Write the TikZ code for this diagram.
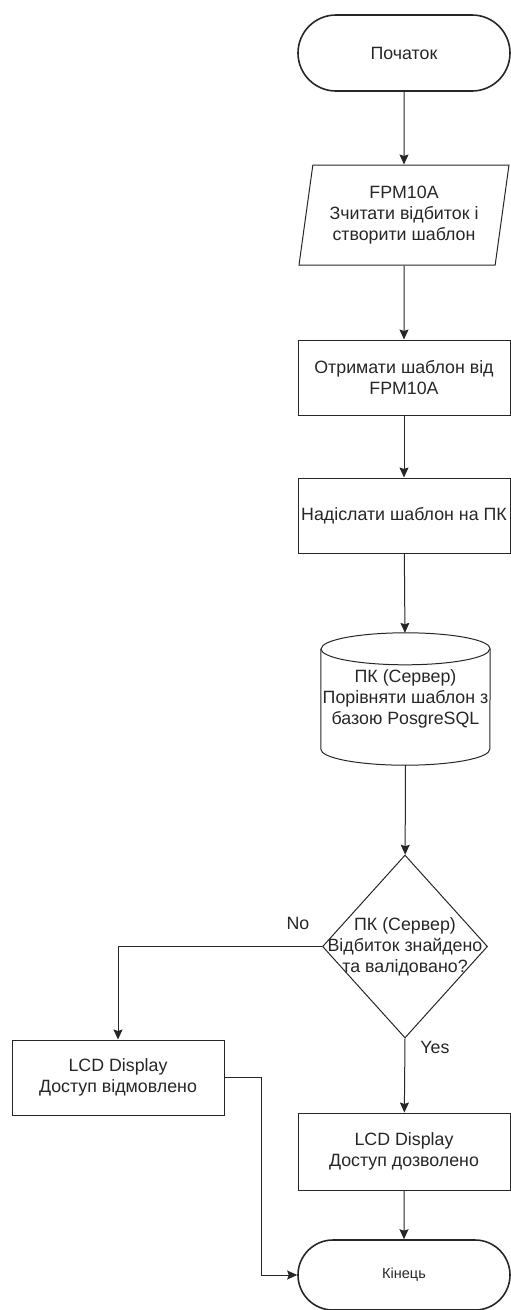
\documentclass[tikz,border=0pt]{standalone}
\usepackage{fontspec}
\setmainfont{Liberation Sans}
\usetikzlibrary{arrows.meta}
\usetikzlibrary{shapes.geometric}
\usetikzlibrary{shapes.misc}

\begin{document}
\begin{tikzpicture}[x=1pt, y=-1pt,
    every node/.style={font=\fontsize{17.8}{21}\selectfont, align=center, text=black!85},
    flow/.style={draw=black!85, line width=1pt, -{Stealth[length=10pt, width=9pt, inset=1.5pt]}},
    terminal/.style={draw=black!85, rounded rectangle, line width=1.6pt, minimum width=212pt, minimum height=76pt, inner sep=0pt},
    process/.style={draw=black!85, rectangle, line width=1pt, minimum width=212pt, minimum height=75pt, inner sep=0pt},
    io/.style={draw=black!85, trapezium, trapezium left angle=79, trapezium right angle=101, trapezium stretches=true, line width=1pt, minimum width=210pt, minimum height=100pt, inner sep=0pt},
    decision/.style={draw=black!85, diamond, line width=1pt, minimum width=165pt, minimum height=183pt, inner sep=0pt},
    tag/.style={inner sep=0pt}]
  \useasboundingbox (0,0) rectangle (511,1310);

  % main column
  \node[terminal] (start) at (404,53) {Початок};
  \node[io] (read) at (404,215) {FPM10A\\Зчитати відбиток і\\створити шаблон};
  \node[process] (recv) at (404,377.5) {Отримати шаблон від\\FPM10A};
  \node[process] (send) at (404,515.5) {Надіслати шаблон на ПК};

  % database (cylinder drawn by hand)
  \node[minimum width=169pt, minimum height=132pt, inner sep=0pt] (db) at (405.5,699) {ПК (Сервер)\\Порівняти шаблон з\\базою PosgreSQL};
  \draw[black!85, line width=1pt]
    ([yshift=-16pt]db.north west) -- ([yshift=16pt]db.south west)
    arc[start angle=180, end angle=360, x radius=84.5pt, y radius=16pt]
    -- ([yshift=-16pt]db.north east)
    arc[start angle=0, end angle=180, x radius=84.5pt, y radius=16pt];
  \draw[black!85, line width=1pt] ([yshift=-16pt]db.north west)
    arc[start angle=180, end angle=360, x radius=84.5pt, y radius=16pt];

  \node[decision] (check) at (405,946.5) {};
  \node[tag] (checktext) at (check.center) {ПК (Сервер)\\Відбиток знайдено\\та валідовано?};

  \node[process] (deny) at (118,1077.5) {LCD Display\\Доступ відмовлено};
  \node[process, minimum height=77pt] (allow) at (404,1151.5) {LCD Display\\Доступ дозволено};
  \node[terminal, minimum height=70pt, font=\fontsize{14.5}{17}\selectfont] (finish) at (404,1275) {Кінець};

  \node[tag] (nolbl) at (298,923) {No};
  \node[tag] (yeslbl) at (435,1047) {Yes};

  % connectors
  \draw[flow] (start) -- (read);
  \draw[flow] (read) -- (recv);
  \draw[flow] (recv) -- (send);
  \draw[flow] (send) -- (db);
  \draw[flow] (db) -- (check);
  \draw[flow] (check.west) -| (deny.north);
  \draw[flow] (check.south) -- (allow);
  \draw[flow] (allow) -- (finish);
  \draw[flow] (deny.east) -- ++(37,0) |- (finish.west);
\end{tikzpicture}
\end{document}
